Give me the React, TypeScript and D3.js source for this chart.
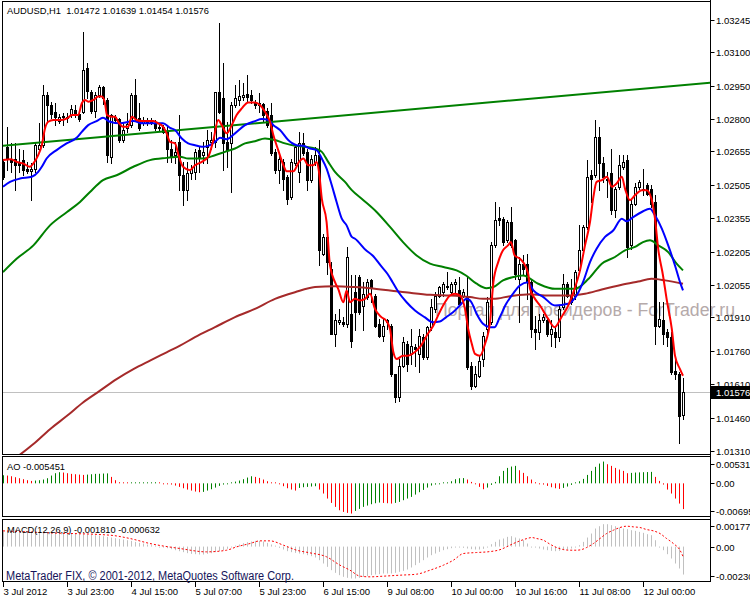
import React from 'react';
import * as d3 from 'd3';

const HEADER = 'AUDUSD,H1  1.01472 1.01639 1.01454 1.01576';
const WATERMARK = 'Портал для трейдеров - ForTrader.ru';
const COPYRIGHT = 'MetaTrader FIX, © 2001-2012, MetaQuotes Software Corp.';
const AO_TITLE = 'AO -0.005451';
const MACD_TITLE = 'MACD(12,26,9) -0.001810 -0.000632';

const TIME_BARS = [0, 16, 32, 48, 64, 80, 96, 112, 128, 144, 160];
const TIME_LABELS = ['3 Jul 2012', '3 Jul 23:00', '4 Jul 15:00', '5 Jul 07:00', '5 Jul 23:00', '6 Jul 15:00', '9 Jul 08:00', '10 Jul 00:00', '10 Jul 16:00', '11 Jul 08:00', '12 Jul 00:00'];
const PRICE_TICKS = ['1.03245', '1.03100', '1.02950', '1.02800', '1.02655', '1.02505', '1.02355', '1.02205', '1.02055', '1.01910', '1.01760', '1.01610', '1.01460', '1.01310'];
const LAST_PRICE = 1.01576;
const AO_SCALE = [0.005314, 0, -0.006951];
const AO_SCALE_LABELS = ['0.005314', '0.00', '-0.006951'];
const MACD_SCALE = [0.001773, 0, -0.002305];
const MACD_SCALE_LABELS = ['0.001773', '0.00', '-0.002305'];

const OPEN = [1.02608,1.02676,1.02623,1.02623,1.02601,1.02616,1.02575,1.02569,1.02578,1.02668,
1.02683,1.02908,1.02863,1.02830,1.02791,1.02809,1.02811,1.02818,1.02841,1.02824,
1.02833,1.03028,1.02923,1.02836,1.02908,1.02944,1.02886,1.02631,1.02811,1.02800,
1.02706,1.02758,1.02773,1.02908,1.02803,1.02781,1.02791,1.02785,1.02781,1.02758,
1.02764,1.02743,1.02668,1.02638,1.02698,1.02548,1.02481,1.02556,1.02563,1.02661,
1.02638,1.02676,1.02698,1.02698,1.02923,1.02893,1.02698,1.02691,1.02863,1.02886,
1.02901,1.02913,1.02908,1.02875,1.02871,1.02866,1.02836,1.02818,1.02653,1.02571,
1.02608,1.02541,1.02451,1.02601,1.02563,1.02691,1.02653,1.02526,1.02608,1.02638,
1.02196,1.02271,1.02128,1.01836,1.01891,1.01888,1.01881,1.01926,1.02023,1.02091,
1.01963,1.02001,1.02076,1.02008,1.01881,1.01828,1.01891,1.01873,1.01656,1.01551,
1.01693,1.01791,1.01746,1.01776,1.01746,1.01821,1.01731,1.01866,1.01948,1.02008,
1.02023,1.02046,1.02023,1.02061,1.02031,1.02008,1.02008,1.01693,1.01603,1.01648,
1.01723,1.01858,1.01888,1.02233,1.02358,1.02353,1.02256,1.02338,1.02256,1.02083,
1.02151,1.02151,1.02068,1.01858,1.01843,1.01896,1.01896,1.01836,1.01843,1.01821,
1.01956,1.02061,1.02008,1.02008,1.02121,1.02211,1.02316,1.02548,1.02548,1.02721,
1.02601,1.02533,1.02556,1.02391,1.02496,1.02586,1.02616,1.02233,1.02421,1.02496,
1.02488,1.02503,1.02488,1.02428,1.01873,1.01896,1.01843,1.01821,1.01671,1.01656,
1.01472];

const HIGH = [1.02623,1.02766,1.02691,1.02691,1.02668,1.02661,1.02608,1.02601,1.02698,1.02781,
1.02953,1.02923,1.02875,1.02871,1.02821,1.02826,1.02826,1.02863,1.02863,1.02836,
1.03193,1.03051,1.02931,1.02923,1.02953,1.02947,1.02893,1.02821,1.02818,1.02806,
1.02788,1.02826,1.02916,1.02980,1.02871,1.02811,1.02803,1.02803,1.02796,1.02781,
1.02773,1.02773,1.02706,1.02698,1.02818,1.02608,1.02608,1.02593,1.02668,1.02676,
1.02698,1.02751,1.02743,1.02923,1.03231,1.03051,1.02788,1.02878,1.02953,1.02976,
1.02961,1.02998,1.02931,1.02886,1.02916,1.02871,1.02848,1.02871,1.02668,1.02638,
1.02623,1.02548,1.02623,1.02683,1.02743,1.02736,1.02668,1.02638,1.02676,1.02706,
1.02286,1.02278,1.02158,1.01926,1.01948,1.01911,1.02226,1.02098,1.02098,1.02098,
1.02068,1.02083,1.02083,1.02016,1.01903,1.01903,1.01903,1.01881,1.01656,1.01723,
1.01821,1.01806,1.01858,1.01791,1.01858,1.01836,1.01873,1.01993,1.02023,1.02053,
1.02068,1.02113,1.02068,1.02083,1.02091,1.02038,1.02091,1.01708,1.01693,1.01738,
1.01843,1.02001,1.02248,1.02428,1.02406,1.02361,1.02346,1.02406,1.02263,1.02181,
1.02188,1.02196,1.02083,1.01918,1.01926,1.01926,1.01911,1.01896,1.01866,1.01963,
1.02106,1.02068,1.02083,1.02121,1.02323,1.02323,1.02616,1.02571,1.02796,1.02766,
1.02631,1.02563,1.02668,1.02496,1.02638,1.02638,1.02638,1.02436,1.02511,1.02526,
1.02578,1.02511,1.02503,1.02458,1.01978,1.01978,1.01858,1.01843,1.01723,1.01663,
1.01639];

const LOW = [1.02533,1.02571,1.02563,1.02481,1.02563,1.02548,1.02556,1.02436,1.02563,1.02653,
1.02676,1.02788,1.02803,1.02773,1.02781,1.02773,1.02788,1.02811,1.02811,1.02791,
1.02826,1.02893,1.02826,1.02811,1.02901,1.02866,1.02608,1.02601,1.02788,1.02698,
1.02698,1.02743,1.02766,1.02796,1.02751,1.02773,1.02773,1.02776,1.02751,1.02746,
1.02736,1.02608,1.02608,1.02601,1.02481,1.02413,1.02436,1.02533,1.02533,1.02563,
1.02601,1.02601,1.02668,1.02676,1.02826,1.02571,1.02586,1.02473,1.02856,1.02863,
1.02886,1.02878,1.02871,1.02848,1.02833,1.02788,1.02766,1.02638,1.02556,1.02511,
1.02481,1.02421,1.02443,1.02593,1.02518,1.02638,1.02481,1.02518,1.02593,1.02143,
1.02188,1.02106,1.01836,1.01783,1.01881,1.01873,1.01866,1.01776,1.01851,1.01926,
1.01851,1.01993,1.01978,1.01866,1.01821,1.01806,1.01858,1.01648,1.01528,1.01536,
1.01686,1.01671,1.01701,1.01693,1.01663,1.01723,1.01723,1.01851,1.01933,1.02001,
1.02008,1.02038,1.02016,1.02023,1.01963,1.02001,1.01678,1.01588,1.01596,1.01641,
1.01693,1.01836,1.01881,1.02226,1.02323,1.02233,1.02248,1.02226,1.02083,1.01888,
1.02098,1.01993,1.01821,1.01768,1.01813,1.01888,1.01828,1.01783,1.01776,1.01806,
1.01948,1.02001,1.01971,1.01993,1.02113,1.02196,1.02308,1.02428,1.02541,1.02481,
1.02518,1.02451,1.02376,1.02361,1.02488,1.02578,1.02181,1.02218,1.02413,1.02488,
1.02458,1.02458,1.02406,1.01791,1.01866,1.01791,1.01783,1.01656,1.01633,1.01348,
1.01454];

const CLOSE = [1.02541,1.02623,1.02608,1.02593,1.02593,1.02571,1.02569,1.02578,1.02683,1.02686,
1.02908,1.02863,1.02821,1.02811,1.02809,1.02815,1.02803,1.02845,1.02818,1.02800,
1.03021,1.02926,1.02836,1.02908,1.02944,1.02893,1.02638,1.02818,1.02796,1.02706,
1.02751,1.02776,1.02908,1.02803,1.02758,1.02794,1.02782,1.02788,1.02758,1.02764,
1.02743,1.02668,1.02631,1.02653,1.02551,1.02481,1.02556,1.02575,1.02653,1.02631,
1.02653,1.02706,1.02706,1.02920,1.02833,1.02691,1.02661,1.02863,1.02893,1.02905,
1.02908,1.02901,1.02886,1.02863,1.02863,1.02818,1.02773,1.02646,1.02571,1.02623,
1.02533,1.02443,1.02608,1.02676,1.02691,1.02646,1.02526,1.02623,1.02638,1.02211,
1.02271,1.02158,1.01836,1.01896,1.01896,1.01881,1.02181,1.01806,1.01933,1.01933,
1.02016,1.02068,1.02046,1.01873,1.01828,1.01873,1.01897,1.01656,1.01551,1.01693,
1.01798,1.01701,1.01783,1.01768,1.01828,1.01731,1.01866,1.01956,1.02008,1.02046,
1.02061,1.02053,1.02061,1.02068,1.01971,1.02023,1.01686,1.01603,1.01656,1.01716,
1.01828,1.01978,1.02233,1.02346,1.02346,1.02248,1.02338,1.02233,1.02106,1.02151,
1.02128,1.02068,1.01858,1.01843,1.01896,1.01911,1.01836,1.01858,1.01821,1.01948,
1.02061,1.02008,1.01978,1.02113,1.02211,1.02316,1.02541,1.02533,1.02721,1.02601,
1.02541,1.02526,1.02391,1.02488,1.02593,1.02608,1.02226,1.02421,1.02496,1.02518,
1.02481,1.02466,1.02421,1.01873,1.01903,1.01836,1.01821,1.01663,1.01656,1.01465,
1.01576];

// moving averages: [bar index, price]
const MA_RED: [number, number][] = [[0,1.02616],[2,1.02620],[3.4,1.02608],[5,1.02601],[6.75,1.02586],[7.6,1.02601],[8.8,1.02638],[9.7,1.02683],[10.5,1.02758],[11.3,1.02788],[12.6,1.02796],[14.7,1.02796],[16,1.02803],[17.2,1.02818],[18.8,1.02818],[19.7,1.02871],[20.5,1.02886],[21.3,1.02878],[22.6,1.02886],[23.8,1.02901],[24.7,1.02901],[25.5,1.02871],[26,1.02818],[27.2,1.02811],[28,1.02811],[28.8,1.02788],[30,1.02766],[31.3,1.02766],[32.2,1.02811],[33.4,1.02796],[35,1.02791],[37.6,1.02791],[38.8,1.02781],[40,1.02766],[40.9,1.02736],[41.75,1.02698],[43,1.02691],[44,1.02631],[45,1.02586],[46.75,1.02571],[48,1.02593],[49.7,1.02608],[51.3,1.02631],[52.6,1.02706],[53.8,1.02796],[54.7,1.02773],[55.9,1.02736],[57.2,1.02773],[58.4,1.02818],[59.7,1.02848],[61.3,1.02875],[63,1.02875],[64.25,1.02863],[65.5,1.02833],[66.75,1.02788],[67.6,1.02728],[68.8,1.02661],[70.1,1.02593],[70.9,1.02566],[72.6,1.02566],[74,1.02608],[75.1,1.02623],[76.3,1.02593],[77.6,1.02593],[78.4,1.02608],[79,1.02563],[79.7,1.02443],[80.9,1.02338],[81.75,1.02143],[83,1.02068],[83.8,1.02038],[85.1,1.01978],[85.9,1.02031],[86.75,1.01978],[88,1.01993],[89.25,1.01986],[90.5,1.01993],[91.75,1.02016],[93,1.01948],[94.6,1.01911],[95.75,1.01896],[96.75,1.01858],[97.6,1.01753],[98.4,1.01723],[100,1.01738],[101.25,1.01738],[102.9,1.01753],[104.5,1.01783],[106.2,1.01836],[107.6,1.01873],[108.75,1.01918],[110.5,1.01978],[111.75,1.02008],[113,1.02016],[114.25,1.02008],[115.5,1.01948],[116.3,1.01858],[117.2,1.01791],[118,1.01746],[119.25,1.01738],[120.5,1.01791],[121.75,1.01888],[122.6,1.02068],[123.8,1.02158],[125,1.02211],[126.25,1.02233],[127,1.02248],[127.9,1.02188],[129.25,1.02173],[130,1.02158],[131.3,1.02106],[131.75,1.02038],[133,1.01993],[134.25,1.01963],[136.3,1.01903],[137.9,1.01866],[139.6,1.01911],[141.3,1.01963],[142.9,1.02038],[144.25,1.02121],[145.5,1.02233],[146.75,1.02338],[147.6,1.02451],[148.4,1.02518],[149.7,1.02526],[151,1.02541],[152.2,1.02496],[153.4,1.02511],[154.7,1.02541],[155.5,1.02488],[156.75,1.02436],[158,1.02458],[159.7,1.02481],[160.9,1.02481],[162.1,1.02443],[163,1.02353],[163.8,1.02218],[165,1.02098],[165.9,1.01993],[167.2,1.01858],[168,1.01738],[169.25,1.01678],[170,1.01648]];

const MA_BLUE: [number, number][] = [[0,1.02496],[1.75,1.02518],[4.25,1.02533],[7.2,1.02541],[8.8,1.02563],[9.7,1.02586],[10.9,1.02623],[13.4,1.02661],[15.9,1.02691],[18.4,1.02716],[19.7,1.02743],[21.3,1.02773],[23.4,1.02791],[25,1.02806],[26.75,1.02788],[29.25,1.02781],[32.6,1.02791],[35,1.02781],[38.4,1.02781],[40,1.02781],[41.75,1.02761],[43,1.02751],[44.7,1.02713],[46.3,1.02691],[48,1.02683],[49.7,1.02676],[51.3,1.02680],[53,1.02698],[54.25,1.02716],[55.9,1.02710],[58,1.02736],[60.5,1.02773],[63,1.02791],[64.7,1.02800],[66.3,1.02796],[67.6,1.02773],[69.25,1.02751],[71.3,1.02706],[73.4,1.02683],[75.1,1.02680],[76.75,1.02668],[78.4,1.02661],[79.7,1.02623],[80.9,1.02578],[82.2,1.02503],[83.4,1.02428],[84.7,1.02353],[85.9,1.02323],[87.2,1.02271],[88,1.02263],[90.75,1.02211],[92.4,1.02188],[94.4,1.02143],[96.1,1.02106],[97.4,1.02068],[98.9,1.02023],[100.9,1.01978],[103,1.01941],[105.4,1.01911],[107.5,1.01888],[109.2,1.01891],[110.8,1.01911],[112.5,1.01933],[114.2,1.01963],[115.9,1.01993],[117.1,1.01978],[118.4,1.01926],[120,1.01881],[121.7,1.01866],[122.9,1.01866],[124.2,1.01911],[125.8,1.01971],[127.5,1.02016],[129.2,1.02053],[131.25,1.02068],[132.6,1.02031],[135.1,1.02001],[138,1.01963],[141.3,1.01971],[143.4,1.02008],[145,1.02068],[146.75,1.02158],[148.4,1.02218],[150.5,1.02271],[152.6,1.02301],[154.7,1.02353],[155.9,1.02341],[157.6,1.02361],[159.7,1.02383],[161.75,1.02398],[163,1.02368],[164.7,1.02308],[166.3,1.02233],[168,1.02143],[169.25,1.02068],[170,1.02031]];

const MA_GREEN: [number, number][] = [[0,1.02113],[3.4,1.02173],[7.6,1.02233],[11.75,1.02323],[16,1.02383],[19.25,1.02428],[21.75,1.02473],[25,1.02526],[28.4,1.02548],[32.6,1.02586],[36.75,1.02616],[40.9,1.02626],[44.25,1.02631],[46.3,1.02623],[49.7,1.02623],[53,1.02638],[55.5,1.02653],[58,1.02668],[60.5,1.02691],[63,1.02701],[65.5,1.02713],[68,1.02706],[70.5,1.02691],[73,1.02680],[75.5,1.02676],[78,1.02668],[79.7,1.02653],[81.3,1.02608],[83,1.02563],[85.5,1.02518],[87.2,1.02481],[90.1,1.02436],[93.4,1.02383],[96.75,1.02316],[100,1.02248],[103.4,1.02188],[106.75,1.02151],[110.1,1.02136],[113.4,1.02121],[115.75,1.02098],[118.4,1.02061],[120.9,1.02041],[122.6,1.02046],[125,1.02076],[127.6,1.02091],[130,1.02098],[133.8,1.02061],[138,1.02038],[143,1.02038],[146.4,1.02083],[149.7,1.02151],[153,1.02181],[155.5,1.02211],[158,1.02226],[160,1.02248],[161.75,1.02256],[163.8,1.02233],[166.3,1.02203],[168.4,1.02151],[170,1.02121]];

const MA_BROWN: [number, number][] = [[0,1.01243],[3.8,1.01288],[7.6,1.01341],[11.75,1.01408],[16,1.01468],[20,1.01528],[24.25,1.01581],[28.4,1.01633],[32.6,1.01678],[36.75,1.01716],[40.9,1.01753],[44.25,1.01783],[48,1.01821],[53,1.01866],[58,1.01911],[63,1.01948],[68,1.01993],[73,1.02023],[78,1.02046],[83,1.02050],[88,1.02046],[91.75,1.02041],[96.75,1.02031],[101.75,1.02020],[106.75,1.02011],[111.75,1.02008],[116.75,1.02001],[120,1.01993],[122.6,1.01993],[126.75,1.02005],[131.75,1.02014],[135.5,1.02008],[141.3,1.02008],[145.5,1.02016],[149.7,1.02035],[154.7,1.02056],[158.8,1.02071],[162.1,1.02083],[165.5,1.02076],[170,1.02061]];

const TRENDLINE: [number, number][] = [[0, 1.02680], [177, 1.02964]];

const AO = [0.00171,0.00164,0.00150,0.00129,0.00108,0.00087,0.00066,0.00051,0.00059,0.00066,
0.00080,0.00108,0.00164,0.00214,0.00235,0.00228,0.00214,0.00200,0.00192,0.00185,
0.00178,0.00185,0.00192,0.00200,0.00202,0.00207,0.00210,0.00136,0.00066,0.00023,
0.00002,0.00001,0.00006,0.00009,0.00013,0.00016,0.00018,0.00020,0.00023,0.00002,
-0.00008,-0.00012,-0.00026,-0.00047,-0.00075,-0.00104,-0.00132,-0.00153,-0.00174,-0.00188,
-0.00181,-0.00153,-0.00125,-0.00090,-0.00054,-0.00026,-0.00005,0.00016,0.00037,0.00059,
0.00087,0.00122,0.00150,0.00136,0.00115,0.00080,0.00044,0.00016,0.00002,-0.00005,
-0.00061,-0.00104,-0.00132,-0.00153,-0.00097,-0.00082,-0.00075,-0.00068,-0.00061,-0.00132,
-0.00216,-0.00322,-0.00414,-0.00498,-0.00569,-0.00604,-0.00625,-0.00639,-0.00583,-0.00541,
-0.00498,-0.00470,-0.00442,-0.00421,-0.00407,-0.00414,-0.00421,-0.00428,-0.00414,-0.00393,
-0.00357,-0.00322,-0.00287,-0.00238,-0.00188,-0.00139,-0.00090,-0.00047,-0.00026,-0.00012,
0.00002,0.00016,0.00044,0.00087,0.00108,0.00111,0.00080,0.00030,-0.00005,-0.00075,
-0.00125,-0.00090,-0.00033,0.00030,0.00150,0.00263,0.00326,0.00355,0.00369,0.00277,
0.00221,0.00150,0.00080,0.00023,-0.00005,-0.00026,-0.00054,-0.00082,-0.00104,-0.00118,
-0.00097,-0.00068,-0.00033,0.00002,0.00044,0.00094,0.00178,0.00263,0.00348,0.00418,
0.00460,0.00404,0.00369,0.00326,0.00291,0.00263,0.00214,0.00221,0.00228,0.00231,
0.00235,0.00238,0.00242,0.00136,0.00051,-0.00026,-0.00132,-0.00216,-0.00322,-0.00428,
-0.005451];

const MACD_MAIN = [0.000997,0.000997,0.000975,0.000975,0.000975,0.000953,0.000953,0.000953,0.000953,0.000932,
0.000932,0.000932,0.000932,0.000910,0.000910,0.000889,0.000889,0.000867,0.000846,0.000824,
0.000802,0.000781,0.000759,0.000738,0.000716,0.000673,0.000630,0.000587,0.000544,0.000500,
0.000457,0.000414,0.000371,0.000306,0.000242,0.000198,0.000134,0.000091,0.000026,-0.000017,
-0.000060,-0.000104,-0.000168,-0.000233,-0.000298,-0.000362,-0.000427,-0.000470,-0.000492,-0.000513,
-0.000513,-0.000470,-0.000427,-0.000362,-0.000298,-0.000233,-0.000147,-0.000060,0.000026,0.000134,
0.000220,0.000285,0.000328,0.000371,0.000371,0.000328,0.000242,0.000134,0.000026,-0.000082,
-0.000190,-0.000298,-0.000362,-0.000406,-0.000449,-0.000492,-0.000557,-0.000621,-0.000708,-0.000880,
-0.001096,-0.001311,-0.001527,-0.001700,-0.001851,-0.001958,-0.002023,-0.002066,-0.002066,-0.002023,
-0.001958,-0.001915,-0.001851,-0.001808,-0.001786,-0.001743,-0.001743,-0.001743,-0.001700,-0.001635,
-0.001570,-0.001484,-0.001354,-0.001203,-0.001052,-0.000880,-0.000708,-0.000557,-0.000449,-0.000341,
-0.000233,-0.000168,-0.000104,-0.000060,-0.000060,-0.000082,-0.000125,-0.000168,-0.000190,-0.000190,
-0.000147,-0.000017,0.000155,0.000306,0.000457,0.000522,0.000630,0.000673,0.000587,0.000522,
0.000414,0.000198,-0.000017,-0.000060,-0.000125,-0.000190,-0.000233,-0.000276,-0.000298,-0.000276,
-0.000233,-0.000190,-0.000125,-0.000060,0.000091,0.000306,0.000587,0.000846,0.001169,0.001320,
0.001450,0.001450,0.001385,0.001320,0.001234,0.001169,0.001126,0.001061,0.001018,0.000953,
0.000889,0.000802,0.000738,0.000414,-0.000017,-0.000233,-0.000492,-0.000772,-0.001096,-0.001419,
-0.001810];

const MACD_SIGNAL: [number, number][] = [[0,0.001018],[11.75,0.000889],[26.75,0.000738],[31.75,0.000522],[36.75,0.000198],[44.25,-0.000125],[50.9,-0.000341],[55.9,-0.000233],[58.4,-0.000017],[61.75,0.000198],[64.25,0.000371],[66.75,0.000371],[70.1,0.000091],[73.4,-0.000233],[76.75,-0.000406],[80.9,-0.000664],[84.25,-0.001203],[86.75,-0.001527],[89.25,-0.001915],[91.75,-0.001958],[95.1,-0.001915],[99.25,-0.001851],[103.4,-0.001786],[106.75,-0.001527],[110.1,-0.001203],[112.6,-0.000880],[115.1,-0.000449],[118.4,-0.000384],[121.5,-0.000330],[124.25,-0.000200],[125.9,-0.000017],[127.6,0.000198],[129.25,0.000371],[131,0.000522],[132.2,0.000587],[133.4,0.000522],[135.1,0.000414],[136.75,0.000155],[138.4,-0.000060],[140.1,-0.000190],[141.75,-0.000233],[143.4,-0.000233],[144.7,-0.000190],[145.9,-0.000060],[147.6,0.000198],[149.25,0.000522],[150.9,0.000846],[152.6,0.001061],[154.25,0.001234],[155.9,0.001320],[157.6,0.001277],[159.25,0.001234],[160.9,0.001104],[162.6,0.001018],[164.25,0.000846],[165.9,0.000522],[167.6,0.000198],[169.25,-0.000233],[170,-0.000632]];

const FONT = "'Liberation Sans', Arial, sans-serif";

export default function App() {
  const n = CLOSE.length;
  const x = d3.scaleLinear().domain([0, n - 1]).range([3, 683]);
  const yM = d3.scaleLinear().domain([1.0131, 1.03245]).range([451, 20]);
  const yA = d3.scaleLinear().domain([AO_SCALE[2], AO_SCALE[0]]).range([516.2, 458.2]);
  const yC = d3.scaleLinear().domain([MACD_SCALE[2], MACD_SCALE[0]]).range([582.2, 519.2]);

  const mainLine = d3.line<[number, number]>().x(d => x(d[0])).y(d => yM(d[1])).curve(d3.curveMonotoneX);
  const trendLine = d3.line<[number, number]>().x(d => x(d[0])).y(d => yM(d[1]));
  const sigLine = d3.line<[number, number]>().x(d => x(d[0])).y(d => yC(d[1])).curve(d3.curveMonotoneX);

  const candles = d3.range(n).map(i => {
    const cx = Math.round(x(i));
    const o = Math.round(yM(OPEN[i]));
    const c = Math.round(yM(CLOSE[i]));
    const h = Math.round(yM(HIGH[i]));
    const l = Math.round(yM(LOW[i]));
    const top = Math.min(o, c);
    const bot = Math.max(o, c);
    const bull = CLOSE[i] > OPEN[i];
    return (
      <g key={i}>
        <line x1={cx + 0.5} x2={cx + 0.5} y1={h} y2={l + 1} stroke="#000" strokeWidth={1} />
        {bot - top < 1 ? (
          <line x1={cx - 1} x2={cx + 2} y1={top + 0.5} y2={top + 0.5} stroke="#000" strokeWidth={1} />
        ) : bull ? (
          <rect x={cx - 0.5} y={top + 0.5} width={2} height={bot - top} fill="#fff" stroke="#000" strokeWidth={1} />
        ) : (
          <rect x={cx - 1} y={top} width={3} height={bot - top + 1} fill="#000" />
        )}
      </g>
    );
  });

  const aoBars = AO.map((v, i) => {
    const cx = Math.round(x(i)) + 0.5;
    const y0 = yA(0);
    let y1 = yA(v);
    if (Math.abs(y1 - y0) < 1) y1 = y0 + (v >= 0 ? -1 : 1);
    const up = i === 0 ? true : v > AO[i - 1];
    return <line key={i} x1={cx} x2={cx} y1={y0} y2={y1} stroke={up ? '#008000' : '#ff0000'} strokeWidth={1} />;
  });

  const macdBars = MACD_MAIN.map((v, i) => {
    const cx = Math.round(x(i)) + 0.5;
    const y0 = yC(0);
    let y1 = yC(v);
    if (Math.abs(y1 - y0) < 1) y1 = y0 + (v >= 0 ? -1 : 1);
    return <line key={i} x1={cx} x2={cx} y1={y0} y2={y1} stroke="#c0c0c0" strokeWidth={1} />;
  });

  const lastY = Math.round(yM(LAST_PRICE)) + 0.5;
  const axisX = 710.5;
  const labelStyle = { fontFamily: FONT, fontSize: 9.5, fill: '#000' } as const;

  return (
    <svg width={750} height={600} style={{ position: 'absolute', left: 0, top: 0, background: '#fff' }} xmlns="http://www.w3.org/2000/svg">
      <defs>
        <clipPath id="mainClip"><rect x={3} y={2} width={707} height={452} /></clipPath>
        <clipPath id="aoClip"><rect x={3} y={457} width={707} height={59} /></clipPath>
        <clipPath id="macdClip"><rect x={3} y={520} width={707} height={61} /></clipPath>
      </defs>
      <rect x={0} y={0} width={750} height={600} fill="#fff" />

      {/* watermark */}
      <text x={435} y={316} fontFamily={FONT} fontSize={17.5} fill="#b5aaaa" textLength={300} lengthAdjust="spacingAndGlyphs">{WATERMARK}</text>

      {/* main panel */}
      <g clipPath="url(#mainClip)">
        <line x1={3} x2={710} y1={lastY} y2={lastY} stroke="#c0c0c0" strokeWidth={1} />
        {candles}
        <path d={trendLine(TRENDLINE) || ''} fill="none" stroke="#008000" strokeWidth={2} />
        <path d={mainLine(MA_BROWN) || ''} fill="none" stroke="#a52a2a" strokeWidth={2} />
        <path d={mainLine(MA_GREEN) || ''} fill="none" stroke="#008000" strokeWidth={2} />
        <path d={mainLine(MA_BLUE) || ''} fill="none" stroke="#0000ff" strokeWidth={2} />
        <path d={mainLine(MA_RED) || ''} fill="none" stroke="#ff0000" strokeWidth={2} />
      </g>

      {/* AO panel */}
      <g clipPath="url(#aoClip)">{aoBars}</g>
      {/* MACD panel */}
      <g clipPath="url(#macdClip)">
        {macdBars}
        <path d={sigLine(MACD_SIGNAL) || ''} fill="none" stroke="#ff0000" strokeWidth={1} strokeDasharray="2,2" />
      </g>

      {/* frames */}
      <g fill="none" stroke="#000" strokeWidth={1} shapeRendering="crispEdges">
        <rect x={2.5} y={1.5} width={708} height={453} />
        <rect x={2.5} y={456.5} width={708} height={60} />
        <rect x={2.5} y={519.5} width={708} height={62} />
      </g>

      {/* price axis */}
      {PRICE_TICKS.map(t => {
        const yy = Math.round(yM(+t)) + 0.5;
        return (
          <g key={t}>
            <line x1={axisX} x2={axisX + 4} y1={yy} y2={yy} stroke="#000" />
            <text x={716} y={yy} dominantBaseline="central" {...labelStyle}>{t}</text>
          </g>
        );
      })}
      <rect x={711} y={lastY - 6.5} width={39} height={13} fill="#000" />
      <text x={716} y={lastY} dominantBaseline="central" {...labelStyle} fill="#fff">{LAST_PRICE.toFixed(5)}</text>

      {/* AO axis */}
      {AO_SCALE.map((v, k) => {
        const off = k === 0 ? 6 : k === 2 ? -5 : 0;
        const yy = Math.round(yA(v) + off) + 0.5;
        return (
          <g key={'ao' + k}>
            <line x1={axisX} x2={axisX + 4} y1={yy} y2={yy} stroke="#000" />
            <text x={716} y={yy} dominantBaseline="central" {...labelStyle}>{AO_SCALE_LABELS[k]}</text>
          </g>
        );
      })}
      {/* MACD axis */}
      {MACD_SCALE.map((v, k) => {
        const off = k === 0 ? 7 : k === 2 ? -6 : 0;
        const yy = Math.round(yC(v) + off) + 0.5;
        return (
          <g key={'mc' + k}>
            <line x1={axisX} x2={axisX + 4} y1={yy} y2={yy} stroke="#000" />
            <text x={716} y={yy} dominantBaseline="central" {...labelStyle}>{MACD_SCALE_LABELS[k]}</text>
          </g>
        );
      })}
      <line x1={axisX} x2={axisX} y1={0} y2={582} stroke="#000" />

      {/* time axis */}
      {TIME_BARS.map((b, k) => {
        const xx = Math.round(x(b)) + 0.5;
        return (
          <g key={'t' + k}>
            <line x1={xx} x2={xx} y1={582} y2={587} stroke="#000" />
            <text x={xx} y={595} {...labelStyle}>{TIME_LABELS[k]}</text>
          </g>
        );
      })}

      {/* titles */}
      <text x={7} y={14} fontFamily={FONT} fontSize={9.5} fill="#000" textLength={202} lengthAdjust="spacingAndGlyphs" style={{ whiteSpace: 'pre' }}>{HEADER}</text>
      <text x={7} y={470} fontFamily={FONT} fontSize={9.5} fill="#000" textLength={58} lengthAdjust="spacingAndGlyphs">{AO_TITLE}</text>
      <text x={7} y={533} fontFamily={FONT} fontSize={9.5} fill="#000" textLength={153} lengthAdjust="spacingAndGlyphs">{MACD_TITLE}</text>
      <text x={6} y={580} fontFamily={FONT} fontSize={12} fill="#14145a" textLength={288} lengthAdjust="spacingAndGlyphs">{COPYRIGHT}</text>
    </svg>
  );
}
